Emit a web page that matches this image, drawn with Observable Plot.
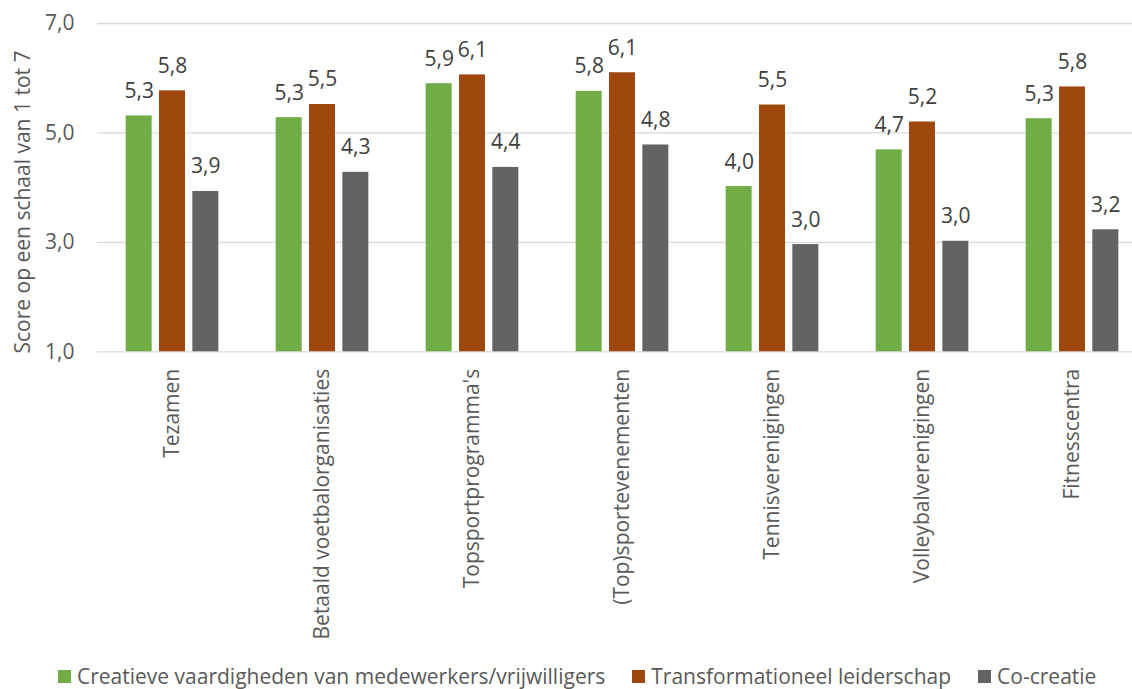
<!DOCTYPE html>
<html>
<head>
<meta charset="utf-8">
<script src="https://cdn.jsdelivr.net/npm/d3@7"></script>
<script src="https://cdn.jsdelivr.net/npm/@observablehq/plot@0.6"></script>
<style>
  html, body { margin: 0; padding: 0; background: #fff; overflow: hidden; }
  #wrap { position: relative; width: 1132px; height: 689px; font-family: "Open Sans", sans-serif; overflow: hidden; }
  #ytitle { position: absolute; left: 22px; top: 202px; transform: translate(-50%, -50%) rotate(-90deg);
            white-space: nowrap; font-size: 21px; color: #595959; }
  #legend { position: absolute; left: 58px; top: 664px; display: flex; align-items: center;
            font-size: 21px; color: #595959; white-space: nowrap; line-height: 24px; }
  .item { display: flex; align-items: center; margin-left: 27px; flex-shrink: 0; }
  .item:first-child { margin-left: 0; }
  .sw { width: 13px; height: 13px; margin-right: 6px; flex-shrink: 0; }
</style>
</head>
<body>
<div id="wrap">
  <div id="chart"></div>
  <div id="ytitle"></div>
  <div id="legend"></div>
</div>
<script>
const categories = ["Tezamen", "Betaald voetbalorganisaties", "Topsportprogramma's", "(Top)sportevenementen", "Tennisverenigingen", "Volleybalverenigingen", "Fitnesscentra"];
const series = ["Creatieve vaardigheden van medewerkers/vrijwilligers", "Transformationeel leiderschap", "Co-creatie"];
const creatief = [5.31, 5.28, 5.90, 5.76, 4.02, 4.69, 5.26];
const transformationeel = [5.77, 5.52, 6.06, 6.10, 5.51, 5.20, 5.84];
const cocreatie = [3.93, 4.28, 4.37, 4.78, 2.96, 3.02, 3.23];
const yTicks = [1, 3, 5, 7];
const colors = ["#70AD47", "#9E480E", "#636363"];
const yTitle = "Score op een schaal van 1 tot 7";

const seriesValues = [creatief, transformationeel, cocreatie];
const data = [];
categories.forEach((c, i) => {
  series.forEach((s, j) => data.push({cat: c, series: s, value: seriesValues[j][i]}));
});
const fmt = v => v.toFixed(1).replace(".", ",");

const H = 655;
const chart = Plot.plot({
  width: 1132,
  height: H,
  marginLeft: 97,
  marginRight: -15,
  marginTop: 23,
  marginBottom: H - 351.3,
  style: {fontFamily: "'Open Sans', sans-serif", fontSize: "21px", color: "#595959", background: "white", overflow: "visible"},
  fx: {domain: categories, paddingInner: 0, paddingOuter: 0, round: false, label: null, tickRotate: -90, tickSize: 0, tickPadding: 17},
  x: {domain: series, paddingInner: 0.22, paddingOuter: 0.86, round: false, axis: null},
  y: {domain: [1, 7], ticks: yTicks, tickFormat: fmt, tickSize: 0, tickPadding: 23, label: null},
  color: {domain: series, range: colors},
  marks: [
    Plot.ruleY(yTicks, {stroke: "#d9d9d9", strokeWidth: 1.3}),
    Plot.barY(data, {fx: "cat", x: "series", y1: 1, y2: "value", fill: "series"}),
    Plot.text(data, {fx: "cat", x: "series", y: "value", text: d => fmt(d.value), dy: -18, lineAnchor: "bottom", fill: "#404040", fontSize: 21})
  ]
});
document.getElementById("chart").appendChild(chart);
document.getElementById("ytitle").textContent = yTitle;

const legend = document.getElementById("legend");
series.forEach((s, j) => {
  const item = document.createElement("div");
  item.className = "item";
  const sw = document.createElement("span");
  sw.className = "sw";
  sw.style.background = colors[j];
  const t = document.createElement("span");
  t.textContent = s;
  item.appendChild(sw);
  item.appendChild(t);
  legend.appendChild(item);
});
</script>
</body>
</html>
